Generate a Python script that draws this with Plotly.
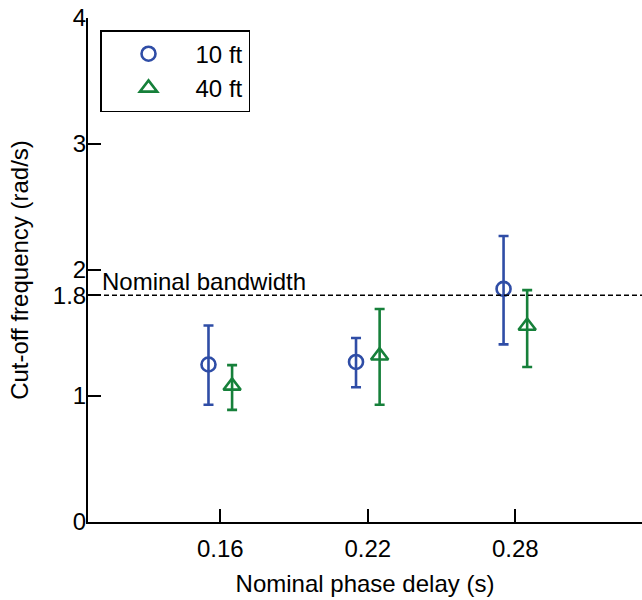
import plotly.graph_objects as go

# ---- data ----
delays = [0.16, 0.22, 0.28]
tick_labels = ["0.16", "0.22", "0.28"]
dodge = 0.0048

y10 = [1.25, 1.27, 1.85]
lo10 = [0.93, 1.07, 1.41]
hi10 = [1.56, 1.46, 2.27]

y40 = [1.08, 1.32, 1.555]
lo40 = [0.89, 0.93, 1.23]
hi40 = [1.245, 1.69, 1.84]

nominal_bw = 1.8
y_ticks = [0, 1, 1.8, 2, 3, 4]
y_tick_labels = ["0", "1", "1.8", "2", "3", "4"]

BLUE = "#2F4DA6"
GREEN = "#16803A"
FONT = "Liberation Sans"
FS = 24

x10 = [d - dodge for d in delays]
x40 = [d + dodge for d in delays]

fig = go.Figure()
fig.add_trace(go.Scatter(
    x=x10, y=y10, mode="markers", name="10 ft",
    marker=dict(symbol="circle-open", size=14, color=BLUE, line=dict(width=2.6, color=BLUE)),
    error_y=dict(type="data", symmetric=False,
                 array=[h - v for h, v in zip(hi10, y10)],
                 arrayminus=[v - l for v, l in zip(y10, lo10)],
                 color=BLUE, thickness=2.6, width=5),
))
fig.add_trace(go.Scatter(
    x=x40, y=y40, mode="markers", name="40 ft",
    marker=dict(symbol="triangle-up-open", size=15, color=GREEN, line=dict(width=2.6, color=GREEN)),
    error_y=dict(type="data", symmetric=False,
                 array=[h - v for h, v in zip(hi40, y40)],
                 arrayminus=[v - l for v, l in zip(y40, lo40)],
                 color=GREEN, thickness=2.6, width=5),
))

fig.add_shape(type="line", xref="paper", x0=0, x1=1, yref="y", y0=nominal_bw, y1=nominal_bw,
              line=dict(color="black", width=1.5, dash="5px,3px"))
fig.add_annotation(text="Nominal bandwidth", xref="x", x=0.1111, yref="y", y=nominal_bw,
                   xanchor="left", yanchor="bottom", showarrow=False, yshift=-2,
                   font=dict(family=FONT, size=FS, color="black"))

axis_common = dict(showline=True, linecolor="black", linewidth=2, ticks="inside",
                   ticklen=13, tickwidth=1.5, tickcolor="black", showgrid=False,
                   zeroline=False, mirror=False, ticklabeloverflow="allow",
                   tickfont=dict(family=FONT, size=FS, color="black"))

fig.update_layout(
    width=642, height=600,
    margin=dict(l=88, r=0, t=18, b=78, autoexpand=False),
    paper_bgcolor="white", plot_bgcolor="white",
    font=dict(family=FONT, size=FS, color="black"),
    showlegend=True,
    legend=dict(x=0.0217, y=0.976, xanchor="left", yanchor="top",
                bgcolor="white", bordercolor="black", borderwidth=1.5,
                itemwidth=84, font=dict(family=FONT, size=FS, color="black")),
    xaxis=dict(range=[0.1062, 0.3315], tickvals=delays, ticktext=tick_labels,
               ticklabelstandoff=4,
               title=dict(text="Nominal phase delay (s)", standoff=14,
                          font=dict(family=FONT, size=FS)),
               **axis_common),
    yaxis=dict(range=[0, 4], tickvals=y_ticks, ticktext=y_tick_labels,
               ticklabelstandoff=-5,
               title=dict(text="Cut-off frequency (rad/s)", standoff=17,
                          font=dict(family=FONT, size=FS)),
               **axis_common),
)

# remove the default page margin so the 642x600 figure fills the window exactly
fig.write_html(
    "out.html",
    config={"displayModeBar": False},
    post_script="document.body.style.margin='0';document.body.style.overflow='hidden';",
)
